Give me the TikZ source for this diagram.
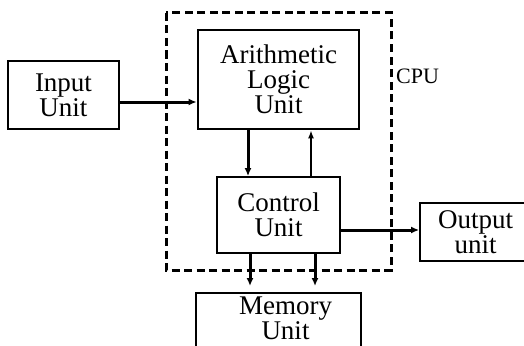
\documentclass[tikz,border=0pt]{standalone}
\usepackage{fontspec}
\setmainfont{Liberation Serif}
\usetikzlibrary{arrows.meta}

\tikzset{
	einheit/.style={draw, line width=1.8pt, inner sep=0pt, align=center,
		font=\fontsize{27}{25}\selectfont},
	pfeil/.style={line width=3pt, -{Latex[length=8pt,width=7pt]}},
	duenn/.style={line width=1.4pt, -{Latex[length=8pt,width=6pt]}},
}

\begin{document}
\begin{tikzpicture}[x=1pt, y=-1pt]
	\useasboundingbox (0,0) rectangle (524,345);
	\clip (0,0) rectangle (524,345);
	
	%Einheiten
	\node[einheit, minimum width=111pt, minimum height=68pt] (input) at (63.5,95) {Input\\Unit};
	\node[einheit, line width=2.8pt, minimum width=161pt, minimum height=99pt] (alu) at (278.5,79.5) {Arithmetic\\Logic\\Unit};
	\node[einheit, minimum width=123pt, minimum height=76pt] (ctrl) at (278.5,215) {Control\\Unit};
	\node[einheit, minimum width=111pt, minimum height=58pt] (out) at (475.5,232) {Output\\unit};
	\node[einheit, minimum width=165pt, minimum height=68pt, anchor=north] (mem) at (278.5,292) {};
	\node[align=center, font=\fontsize{27}{25}\selectfont, inner sep=0pt] (memtext) at (285.5,318) {Memory\\Unit};
	
	%CPU
	\draw[line width=3pt, dash pattern=on 8pt off 4.5pt] (166,13) rectangle (391,270);
	\node[anchor=west, inner sep=0pt, font=\fontsize{22}{24}\selectfont] (cpu) at (396,76) {CPU};
	
	%Pfeile
	\draw[pfeil] ([yshift=-7pt]input.east) -- ([yshift=-7pt]input.east -| alu.west);
	\draw[pfeil] ([xshift=-30.5pt]alu.south) -- ([xshift=-30.5pt]ctrl.north);
	\draw[duenn] ([xshift=32.5pt]ctrl.north) -- ([xshift=32.5pt]alu.south);
	\draw[pfeil] ([yshift=-15pt]ctrl.east) -- ([yshift=-15pt]ctrl.east -| out.west);
	\foreach \dx in {-28.5,36.5} {
		\draw[pfeil, shorten >=6pt] ([xshift=\dx pt]ctrl.south) -- ([xshift=\dx pt]ctrl.south |- mem.north);
	}
\end{tikzpicture}
\end{document}
